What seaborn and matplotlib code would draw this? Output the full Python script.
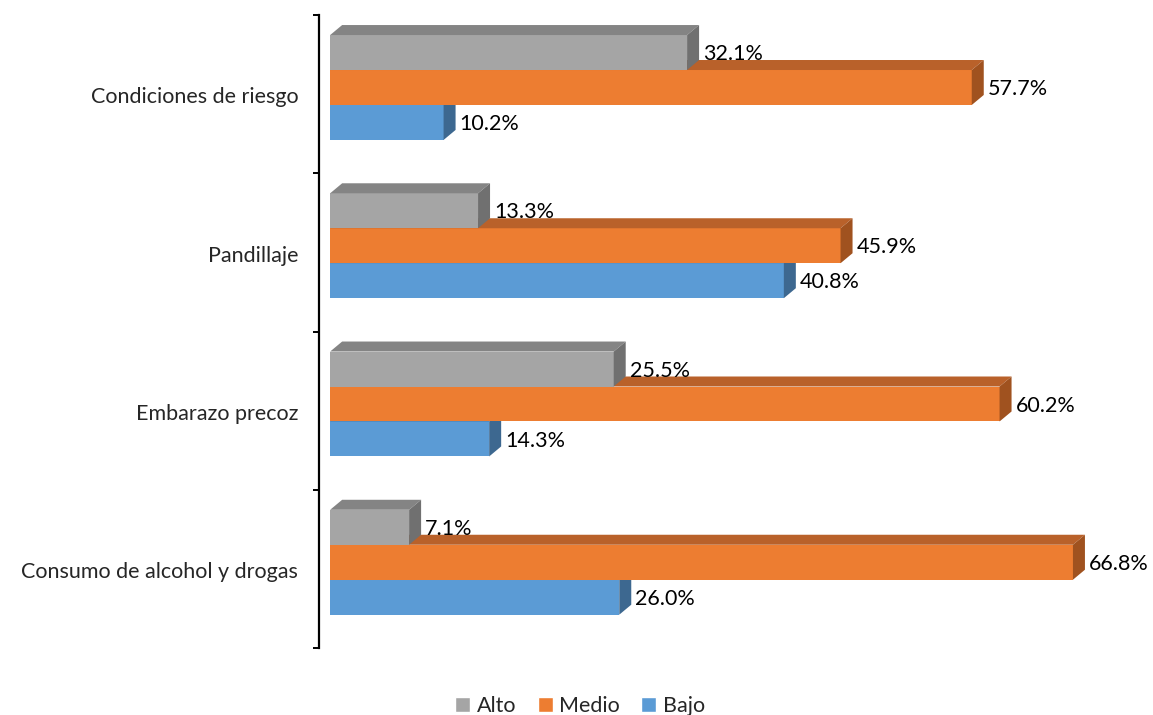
import numpy as np
import pandas as pd
import matplotlib
matplotlib.use('Agg')
import matplotlib.pyplot as plt
import matplotlib.patches as mpatches
import seaborn as sns

# Data
categories = ['Condiciones de riesgo', 'Pandillaje', 'Embarazo precoz',
              'Consumo de alcohol y drogas']
levels = ['Alto', 'Medio', 'Bajo']
alto = [32.1, 13.3, 25.5, 7.1]
medio = [57.7, 45.9, 60.2, 66.8]
bajo = [10.2, 40.8, 14.3, 26.0]

front_colors = {'Alto': '#A5A5A5', 'Medio': '#ED7D31', 'Bajo': '#5B9BD5'}
top_colors = {'Alto': '#848484', 'Medio': '#B9612A', 'Bajo': '#4A7DAB'}
side_colors = {'Alto': '#707070', 'Medio': '#A0521F', 'Bajo': '#3D6890'}

sns.set_style('white')
plt.rcParams['font.family'] = ['Lato', 'DejaVu Sans']
FS = 15.5

rows = []
for lvl, vals in zip(levels, [alto, medio, bajo]):
    for cat, v in zip(categories, vals):
        rows.append({'Categoria': cat, 'Nivel': lvl, 'Valor': v})
df = pd.DataFrame(rows)

fig = plt.figure(figsize=(11.53, 7.15), dpi=100)
ax = fig.add_axes([0.2767, 0.0937, 0.7233, 0.8853])

sns.barplot(data=df, y='Categoria', x='Valor', hue='Nivel', order=categories,
            hue_order=levels, palette=front_colors, orient='h', width=0.663,
            saturation=1, legend=False, ax=ax, err_kws={'linewidth': 0})

ax.set_xlim(-1.0, 74.0)
ax.set_ylim(3.542, -0.458)

# 3D depth in data units (12 px right, 10 px up)
p0 = ax.transData.transform((0, 0))
inv = ax.transData.inverted()
dx = inv.transform(p0 + np.array([12, 0]))[0]
dy = abs(inv.transform(p0 + np.array([0, 10]))[1])

for k, (lvl, cont) in enumerate(zip(levels, ax.containers)):
    z = 5 - k
    for bar in cont:
        bar.set_zorder(z)
        bar.set_edgecolor('none')
        x0 = bar.get_x()
        x1 = x0 + bar.get_width()
        y_top = min(bar.get_y(), bar.get_y() + bar.get_height())
        y_bot = max(bar.get_y(), bar.get_y() + bar.get_height())
        top = mpatches.Polygon([(x0, y_top), (x1, y_top), (x1 + dx, y_top - dy),
                                (x0 + dx, y_top - dy)], closed=True,
                               facecolor=top_colors[lvl], edgecolor='none', zorder=z)
        side = mpatches.Polygon([(x1, y_top), (x1, y_bot), (x1 + dx, y_bot - dy),
                                 (x1 + dx, y_top - dy)], closed=True,
                                facecolor=side_colors[lvl], edgecolor='none', zorder=z)
        ax.add_patch(top)
        ax.add_patch(side)
        ax.annotate(f'{bar.get_width():.1f}%', (x1, (y_top + y_bot) / 2),
                    xytext=(11.5, -1.2), textcoords='offset points',
                    ha='left', va='center', fontsize=FS, color='black', zorder=10)

# Axes styling
for s in ['top', 'right', 'bottom']:
    ax.spines[s].set_visible(False)
ax.spines['left'].set_color('black')
ax.spines['left'].set_linewidth(1.6)
ax.set_xticks([])
ax.set_xlabel('')
ax.set_ylabel('')
ax.set_yticks(np.arange(len(categories)) + 0.05)
ax.set_yticklabels(categories, fontsize=FS)
ax.tick_params(axis='y', which='major', length=0, pad=15)
ax.set_yticks(np.arange(len(categories) + 1) - 0.458, minor=True)
ax.tick_params(axis='y', which='minor', length=4.5, width=1.4, color='black', left=True)

handles = [mpatches.Patch(facecolor=front_colors[l], label=l) for l in levels]
fig.legend(handles=handles, loc='lower center', ncol=3, frameon=False,
           fontsize=FS, handlelength=0.7, handleheight=0.7, handletextpad=0.3,
           columnspacing=1.0, bbox_to_anchor=(0.503, -0.028))

fig.savefig('out.png', dpi=100)
